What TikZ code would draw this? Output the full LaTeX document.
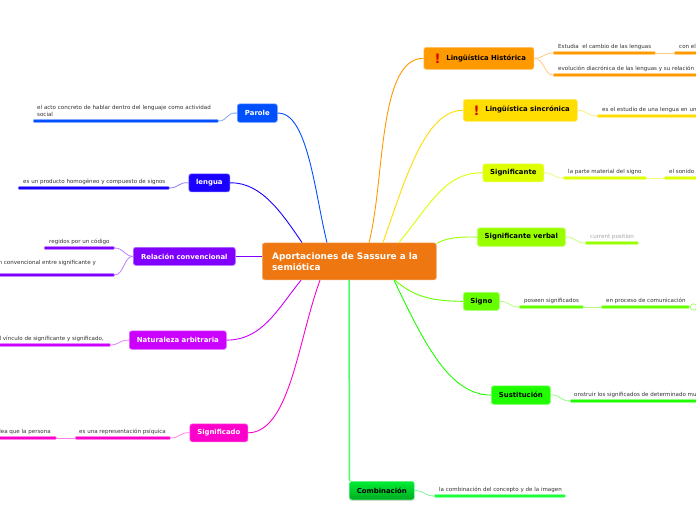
\documentclass[tikz,border=0pt]{standalone}
\usepackage{fontspec}
\setmainfont{DejaVu Sans}
\usetikzlibrary{shadows}
\definecolor{cRoot}{HTML}{EE7711}
\definecolor{cPar}{HTML}{0050FF}
\definecolor{cLen}{HTML}{1A00FF}
\definecolor{cRel}{HTML}{7F00FF}
\definecolor{cNat}{HTML}{CC00FF}
\definecolor{cSdo}{HTML}{FF00CC}
\definecolor{cHis}{HTML}{FF9900}
\definecolor{cSin}{HTML}{FFDD00}
\definecolor{cSte}{HTML}{DDFF00}
\definecolor{cVer}{HTML}{99FF00}
\definecolor{cSig}{HTML}{66FF00}
\definecolor{cSus}{HTML}{1FFF00}
\definecolor{cCom}{HTML}{00EE33}
\definecolor{cComD}{HTML}{00AA22}
\definecolor{cComL}{HTML}{1AFF3C}
\definecolor{cLine}{HTML}{44FF66}
\definecolor{cText}{HTML}{333333}
\tikzset{
  x=1pt,y=-1pt,
  mainbox/.style={rectangle,rounded corners=2.5pt,inner sep=0pt,line width=.7pt,anchor=north west,font=\fontsize{6.9}{8}\selectfont\bfseries},
  whitebox/.style={mainbox,fill=#1,draw=#1!60!white,text=white},
  darkbox/.style={mainbox,fill=#1,draw=#1!60!white,text=black},
  leaf/.style={font=\fontsize{5.55}{6.4}\selectfont,text=cText,inner sep=0pt,anchor=base west},
  leafr/.style={leaf,anchor=base east},
  bar/.style={rectangle,rounded corners=.8pt,fill=#1,draw=#1!55!white,line width=.5pt,inner sep=0pt,minimum height=2.7pt,anchor=west},
  branch/.style={draw=#1,line width=.9pt},
  twig/.style={draw=#1!50!white,line width=.8pt},
  warn/.style={font=\fontsize{13}{13}\selectfont\bfseries,text=red!85!black,inner sep=0pt},
}
\begin{document}
\begin{tikzpicture}
\useasboundingbox (0,0) rectangle (696,520);
\clip (0,0) rectangle (696,520);
\fill[white] (0,0) rectangle (696,520);

% root
\node[mainbox,fill=cRoot,draw=cRoot!60!white,text=white,minimum width=174pt,minimum height=37pt] (root) at (262,242.5) {};
\node[font=\fontsize{8.9}{11}\selectfont\bfseries,text=white,align=left,inner sep=0pt,anchor=west] (roott) at (272,261.5) {Aportaciones de Sassure a la\\semiótica};

% left main nodes
\node[whitebox=cPar,minimum width=40pt,minimum height=18.5pt] (parole) at (237,103.5) {Parole};
\node[whitebox=cLen,minimum width=41pt,minimum height=18pt] (lengua) at (188.5,173.5) {lengua};
\node[whitebox=cRel,minimum width=102pt,minimum height=18pt] (relacion) at (133,247) {Relación convencional};
\node[whitebox=cNat,minimum width=97pt,minimum height=18.5pt] (natur) at (129,330.5) {Naturaleza arbitraria};
\node[whitebox=cSdo,minimum width=58pt,minimum height=18pt] (signif) at (189.5,423.5) {Significado};

% right main nodes
\node[darkbox=cHis,minimum width=110pt,minimum height=22pt] (hist) at (423.5,47) {};
\node[mainbox,anchor=west,text=black] (histt) at (446,58) {Lingüística Histórica};
\node[warn] (histw) at (437.5,59) {!};
\node[darkbox=cSin,minimum width=114pt,minimum height=22pt] (sinc) at (463,99) {};
\node[mainbox,anchor=west,text=black] (sinct) at (485,109.5) {Lingüística sincrónica};
\node[warn] (sincw) at (476.5,110.5) {!};
\node[darkbox=cSte,minimum width=61pt,minimum height=18pt] (ste) at (482.5,163.5) {Significante};
\node[darkbox=cVer,minimum width=88pt,minimum height=18.5pt] (verbal) at (477,227.5) {Significante verbal};
\node[darkbox=cSig,minimum width=36pt,minimum height=18pt] (signo) at (463,292) {Signo};
\node[darkbox=cSus,minimum width=59pt,minimum height=18.5pt] (sust) at (491,385.5) {Sustitución};
\node[mainbox,top color=cCom,bottom color=cComD,draw=cCom!60!white,text=black,minimum width=65pt,minimum height=18.5pt,drop shadow={shadow xshift=0pt,shadow yshift=-1pt,opacity=.3}] (comb) at (349,481) {Combinación};

% branches from the root
\draw[branch=cPar] ([xshift=65pt]root.north west) .. controls (315,195) and (308,112) .. (parole.east);
\draw[branch=cLen] ([xshift=40pt]root.north west) .. controls (283,215) and (262,182) .. (lengua.east);
\draw[branch=cRel] ([yshift=5pt]root.west) -- ([yshift=0pt]relacion.east);
\draw[branch=cNat] ([xshift=39pt]root.south west) .. controls (277,310) and (262,340) .. (natur.east);
\draw[branch=cSdo] ([xshift=58pt]root.south west) .. controls (298,340) and (290,432) .. (signif.east);
\draw[branch=cHis] ([xshift=107pt]root.north west) .. controls (385,180) and (378,58) .. (hist.west);
\draw[branch=cSin] ([xshift=121pt]root.north west) .. controls (405,180) and (425,110) .. (sinc.west);
\draw[branch=cSte] ([xshift=137pt]root.north west) .. controls (430,205) and (445,172) .. (ste.west);
\draw[branch=cVer] ([yshift=-1pt]root.north east) .. controls (445,238) and (460,236.5) .. (verbal.west);
\draw[branch=cSig] ([xshift=133pt]root.south west) .. controls (415,298) and (435,301) .. (signo.west);
\draw[branch=cSus] ([xshift=132pt]root.south west) .. controls (425,345) and (450,395) .. (sust.west);
\draw[draw=cLine,line width=1.5pt] (root.south -| comb.north west) -- ([xshift=.5pt]comb.north west);

% leaf bars
\node[bar=cPar,minimum width=185pt] (parL) at (33,121) {};
\node[bar=cLen,minimum width=151pt] (lenL) at (18,188) {};
\node[bar=cRel,minimum width=70pt] (relA) at (44,248) {};
\node[bar=cRel,minimum width=124pt] (relB) at (-10,275) {};
\node[bar=cNat,minimum width=120pt] (natL) at (-10,345) {};
\node[bar=cSdo,minimum width=95pt] (sdoA) at (75,438) {};
\node[bar=cSdo,minimum width=66pt] (sdoB) at (-10,438) {};
\node[bar=cHis,minimum width=102pt] (hisA) at (553,53) {};
\node[bar=cHis,minimum width=40pt] (hisB) at (674,53) {};
\node[bar=cHis,minimum width=160pt] (hisC) at (553,75) {};
\node[bar=cSin,minimum width=120pt] (sinL) at (597,116) {};
\node[bar=cSte,minimum width=83pt] (steA) at (563,178) {};
\node[bar=cSte,minimum width=50pt] (steB) at (664,178) {};
\node[bar=cVer,minimum width=53pt] (verL) at (585,243) {};
\node[bar=cSig,minimum width=64pt] (sigA) at (519,307) {};
\node[bar=cSig,minimum width=88pt] (sigB) at (601,307) {};
\node[bar=cSus,minimum width=140pt] (susL) at (570,401) {};
\node[bar=cComL,minimum width=131pt] (comL) at (434,496) {};
\node[circle,draw=cSig!70!white,fill=white,line width=.6pt,minimum size=6.5pt,inner sep=0pt] (sigC) at (693.5,307) {};

% twigs
\draw[twig=cPar] (parole.west) .. controls (226,112) and (228,121) .. (parL.east);
\draw[twig=cLen] (lengua.west) .. controls (178,182) and (179,188) .. (lenL.east);
\draw[twig=cRel] (relacion.west) .. controls (124,256) and (124,248) .. (relA.east);
\draw[twig=cRel] (relacion.west) .. controls (124,256) and (124,275) .. (relB.east);
\draw[twig=cNat] (natur.west) .. controls (119,340) and (119,345) .. (natL.east);
\draw[twig=cSdo] (signif.west) .. controls (180,432) and (180,438) .. (sdoA.east);
\draw[twig=cSdo] (sdoA.west) -- (sdoB.east);
\draw[twig=cHis] (hist.east) .. controls (544,58) and (544,53) .. (hisA.west);
\draw[twig=cHis] (hist.east) .. controls (544,58) and (544,75) .. (hisC.west);
\draw[twig=cHis] (hisA.east) -- (hisB.west);
\draw[twig=cSin] (sinc.east) .. controls (587,110) and (587,116) .. (sinL.west);
\draw[twig=cSte] (ste.east) .. controls (553,172) and (553,178) .. (steA.west);
\draw[twig=cSte] (steA.east) -- (steB.west);
\draw[twig=cVer] (verbal.east) .. controls (575,236.5) and (575,243) .. (verL.west);
\draw[twig=cSig] (signo.east) .. controls (509,301) and (509,307) .. (sigA.west);
\draw[twig=cSig] (sigA.east) -- (sigB.west);
\draw[twig=cSig] (sigB.east) -- (sigC.west);
\draw[twig=cSus] (sust.east) .. controls (560,394) and (560,401) .. (susL.west);
\draw[twig=cCom] (comb.east) .. controls (424,490) and (424,496) .. (comL.west);

% leaf texts
\node[leaf,align=left,text width=195pt,anchor=west] (t1) at (37,111) {el acto concreto de hablar dentro del lenguaje como actividad\\social};
\node[leaf] (t2) at (23,183) {es un producto homogéneo y compuesto de signos};
\node[leaf] (t3) at (49,243) {regidos por un código};
\node[leafr] (t4) at (96,264) {n convencional entre significante y};
\node[leafr] (t5) at (104,340) {l vínculo de significante y significado,};
\node[leaf] (t6) at (79,433) {es una representación psíquica};
\node[leafr] (t7) at (51,433) {dea que la persona};
\node[leaf] (t8) at (558,48) {Estudia\ \ el cambio de las lenguas};
\node[leaf] (t9) at (679,48) {con el};
\node[leaf] (t10) at (558,70) {evolución diacrónica de las lenguas y su relación};
\node[leaf] (t11) at (602,111) {es el estudio de una lengua en un};
\node[leaf] (t12) at (568,173) {la parte material del signo};
\node[leaf] (t13) at (669,173) {el sonido};
\node[leaf,text=gray!70] (t14) at (590,238) {current position};
\node[leaf] (t15) at (524,302) {poseen significados};
\node[leaf] (t16) at (606,302) {en proceso de comunicación};
\node[leaf] (t17) at (574,396) {onstruir los significados de determinado mu};
\node[leaf] (t18) at (439,491) {la combinación del concepto y de la imagen};
\end{tikzpicture}
\end{document}
